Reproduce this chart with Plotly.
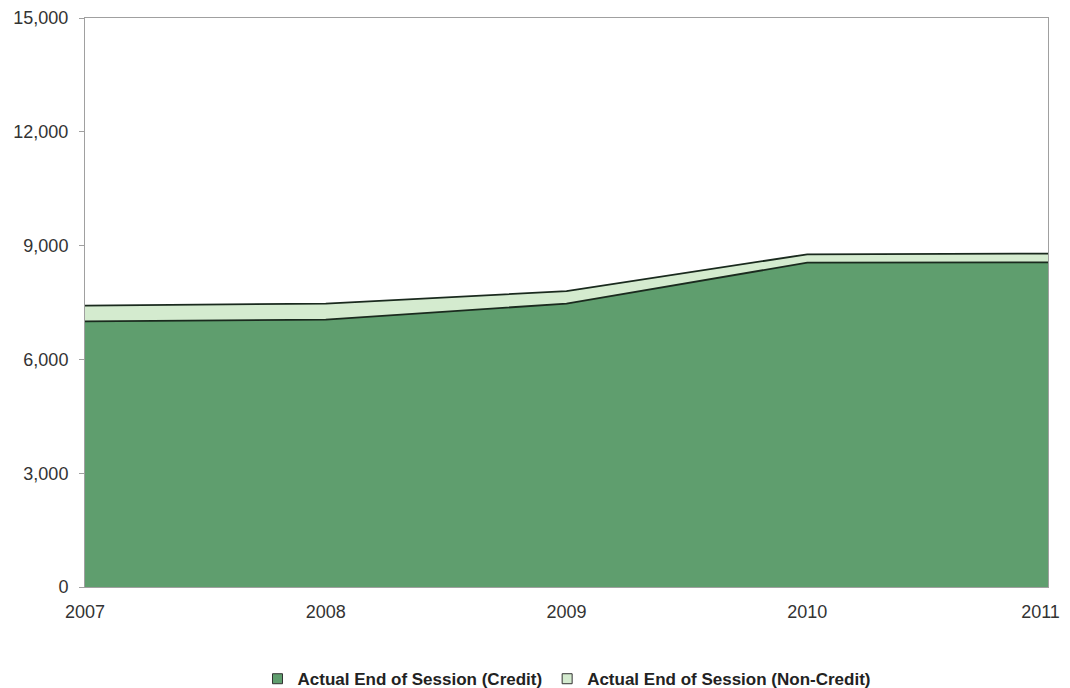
import plotly.graph_objects as go

years = [2007, 2008, 2009, 2010, 2011]
credit = [7000, 7050, 7470, 8550, 8560]
non_credit = [420, 420, 330, 220, 230]
y_ticks = [0, 3000, 6000, 9000, 12000, 15000]
y_tick_labels = ["0", "3,000", "6,000", "9,000", "12,000", "15,000"]
series_names = ["Actual End of Session (Credit)", "Actual End of Session (Non-Credit)"]
fill_colors = ["#5f9e6e", "#d4ebcf"]
edge_color = "#1a2a1e"

fig = go.Figure()
for vals, name, col in zip([credit, non_credit], series_names, fill_colors):
    fig.add_trace(go.Scatter(
        x=years, y=vals, name=name, mode="lines", stackgroup="one",
        line=dict(color=edge_color, width=1.8), fillcolor=col,
        showlegend=False,
    ))
# legend entries with square swatches
for name, col in zip(series_names, fill_colors):
    fig.add_trace(go.Scatter(
        x=[None], y=[None], name=name, mode="markers",
        marker=dict(symbol="square", size=10, color=col, line=dict(color="#333333", width=1)),
        showlegend=True,
    ))

# keep the last year label inside the visible page edge
x_tick_text = [str(y) for y in years]
x_tick_text[-1] = x_tick_text[-1] + "\u00a0\u00a0\u00a0"

fig.update_layout(
    width=1062, height=680,
    margin=dict(l=77, r=22, t=10, b=101, autoexpand=False),
    paper_bgcolor="white", plot_bgcolor="white",
    font=dict(family="Liberation Sans, Arial, sans-serif", size=18, color="#333333"),
    showlegend=True,
    legend=dict(orientation="h", x=0.5, xanchor="center", y=-0.162, yanchor="middle",
                font=dict(size=17, color="#222222", family="Liberation Sans, Arial, sans-serif", weight="bold"),
                itemwidth=30, traceorder="normal"),
)
fig.update_xaxes(
    range=[2007, 2011], tickmode="array", tickvals=years,
    ticktext=x_tick_text, automargin=False, ticklabeloverflow="allow",
    showgrid=False, zeroline=False,
    showline=True, linecolor="#a0a0a0", linewidth=1, mirror=True,
    ticks="", ticklabelstandoff=8,
)
fig.update_yaxes(
    range=[0, 15000], tickmode="array", tickvals=y_ticks, ticktext=y_tick_labels,
    automargin=False,
    showgrid=False, zeroline=False,
    showline=True, linecolor="#a0a0a0", linewidth=1, mirror=True,
    ticks="outside", ticklen=5, tickcolor="#a0a0a0", ticklabelstandoff=7,
)

fig.write_html("out.html")
